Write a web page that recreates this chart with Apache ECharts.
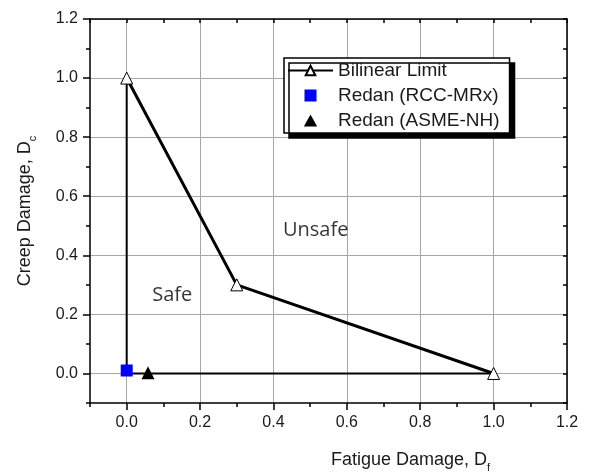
<!DOCTYPE html>
<html>
<head>
<meta charset="utf-8">
<script src="https://cdn.jsdelivr.net/npm/echarts@6/dist/echarts.min.js"></script>
<style>
  html, body { margin: 0; padding: 0; background: #fff; }
  #chart { width: 591px; height: 472px; }
</style>
</head>
<body>
<div id="chart"></div>
<script>
// bilinear creep-fatigue envelope, [fatigue, creep]
const bilinearLimit = [[0, 1.0], [0.3, 0.3], [1.0, 0]]
// axes of the safe zone (drawn thinner, no markers)
const safeBoundary = [[0, 1.0], [0, 0], [1.0, 0]]
const redanRcc = [[0, 0.01]]
const redanAsme = [[0.058, 0.002]]
const majorTicks = [0, 0.2, 0.4, 0.6, 0.8, 1.0, 1.2]
const regionLabels = [['Unsafe', 0.515, 0.485], ['Safe', 0.124, 0.266]]

const axisMin = -0.1
const axisMax = 1.2
const font = 'Liberation Sans, Arial, sans-serif'
const ink = '#1a1a1a'

let axisName = (text, sub) => ({
  name: '{n|' + text + '}{s|' + sub + '}',
  nameLocation: 'middle',
})
let nameRich = {
  n: { fontSize: 18, fontFamily: font, color: ink, lineHeight: 26 },
  s: { fontSize: 11, fontFamily: font, color: ink, lineHeight: 11, verticalAlign: 'bottom' },
}

// main axis: labels, long ticks, grid
let mainAxis = (pos) => ({
  type: 'value',
  position: pos,
  min: axisMin,
  max: axisMax,
  interval: 0.1,
  axisLine: { show: true, onZero: false, lineStyle: { color: '#000', width: 1.5 } },
  axisTick: { show: true, inside: false, length: 7, customValues: majorTicks, lineStyle: { color: '#000', width: 1.5 } },
  axisLabel: {
    customValues: majorTicks,
    formatter: v => v.toFixed(1),
    fontSize: 16,
    fontFamily: font,
    color: ink,
    margin: 12,
  },
  splitLine: { show: true, lineStyle: { color: '#a6a6a6', width: 1 } },
})

// minor tick axis, same side, no line/labels
let minorAxis = (pos) => ({
  type: 'value',
  position: pos,
  min: axisMin,
  max: axisMax,
  interval: 0.1,
  axisLine: { show: false, onZero: false },
  axisTick: { show: true, inside: false, length: 4, lineStyle: { color: '#000', width: 1.5 } },
  axisLabel: { show: false },
  splitLine: { show: false },
})

// opposite frame side, inward ticks
let frameAxis = (pos) => ({
  type: 'value',
  position: pos,
  min: axisMin,
  max: axisMax,
  interval: 0.1,
  axisLine: { show: true, onZero: false, lineStyle: { color: '#000', width: 1.5 } },
  axisTick: { show: true, inside: true, length: 4, lineStyle: { color: '#000', width: 1.5 } },
  axisLabel: { show: false },
  splitLine: { show: false },
})

let option = {
  animation: false,
  backgroundColor: '#fff',
  grid: { left: 90, right: 24, top: 19, bottom: 69, outerBoundsMode: 'none', containLabel: false },
  xAxis: [
    Object.assign(mainAxis('bottom'), axisName('Fatigue Damage, D', 'f'), {
      nameGap: 44,
      nameTextStyle: { rich: nameRich, padding: [0, 0, 0, 164] },
    }),
    minorAxis('bottom'),
    frameAxis('top'),
  ],
  yAxis: [
    Object.assign(mainAxis('left'), axisName('Creep Damage, D', 'c'), {
      nameGap: 52,
      nameTextStyle: { rich: nameRich },
    }),
    minorAxis('left'),
    frameAxis('right'),
  ],
  legend: {
    orient: 'vertical',
    left: 284,
    top: 58,
    data: [
      { name: 'Bilinear Limit' },
      // built-in symbols stretch to itemWidth, paths keep their aspect
      { name: 'Redan (RCC-MRx)', icon: 'path://M0,0L10,0L10,10L0,10Z' },
      { name: 'Redan (ASME-NH)', icon: 'path://M5,0L10,9L0,9Z' },
    ],
    itemWidth: 45,
    itemHeight: 12,
    itemGap: 6,
    symbolKeepAspect: true,
    padding: [3, 10, 3, 3],
    backgroundColor: '#fff',
    borderColor: '#000',
    borderWidth: 1.5,
    borderRadius: 0,
    shadowColor: '#000',
    shadowBlur: 0,
    shadowOffsetX: 5,
    shadowOffsetY: 5,
    textStyle: { fontSize: 19, fontFamily: font, color: ink },
  },
  series: [
    {
      name: 'boundary',
      type: 'line',
      data: safeBoundary,
      symbol: 'none',
      silent: true,
      lineStyle: { color: '#000', width: 2 },
      z: 2,
    },
    {
      name: 'Bilinear Limit',
      type: 'line',
      data: bilinearLimit,
      symbol: 'triangle',
      symbolSize: 12,
      itemStyle: { color: '#fff', borderColor: '#000', borderWidth: 1 },
      lineStyle: { color: '#000', width: 3 },
      z: 3,
    },
    {
      name: 'Redan (RCC-MRx)',
      type: 'scatter',
      data: redanRcc,
      symbol: 'rect',
      symbolSize: 12,
      itemStyle: { color: '#0000ff', opacity: 1 },
      z: 4,
    },
    {
      name: 'Redan (ASME-NH)',
      type: 'scatter',
      data: redanAsme,
      symbol: 'triangle',
      symbolSize: 13,
      itemStyle: { color: '#000', opacity: 1 },
      z: 4,
    },
    {
      name: 'regions',
      type: 'scatter',
      symbolSize: 0,
      silent: true,
      data: regionLabels.map(r => ({ name: r[0], value: [r[1], r[2]] })),
      label: {
        show: true,
        position: 'inside',
        formatter: p => p.name,
        fontSize: 20,
        fontFamily: 'Open Sans, Noto Sans, sans-serif',
        color: '#000',
      },
      z: 5,
    },
  ],
}

let myChart = echarts.init(document.getElementById('chart'))
myChart.setOption(option)
</script>
</body>
</html>
